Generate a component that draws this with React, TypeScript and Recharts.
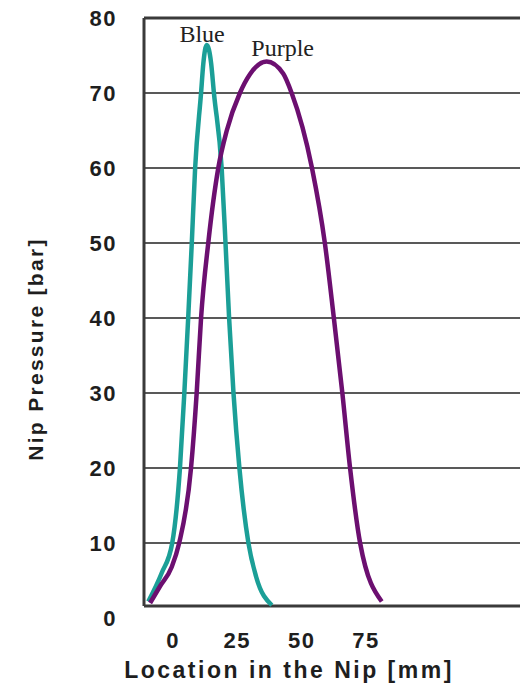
import { Label, Line, LineChart, ReferenceDot, ReferenceLine, XAxis, YAxis } from 'recharts';

// location in the nip [mm] and pressure [bar]
const blueX = [-9.6, -4.4, -0.3, 2.7, 4.4, 5.9, 7.3, 8.6, 10.9, 11.8, 13.1, 14.8, 15.9, 18.9, 20.4, 21.8, 23.5, 25.8, 29.3, 32.3, 38.4];
const blueY = [2.2, 6.0, 10, 20, 30, 40, 50, 60, 70, 74, 76.4, 74, 70, 60, 50, 40, 30, 20, 10, 5.5, 1.7];

const purpleX = [-8.9, -5.1, -0.5, 2.4, 7.0, 9.2, 10.9, 13.7, 17.6, 20.9, 26.0, 29.9, 36.4, 42.8, 46.1, 54.0, 59.0, 62.5, 65.8, 68.8, 72.7, 81.1];
const purpleY = [2.0, 4.2, 6.8, 10, 20, 30, 40, 50, 60, 65, 70, 72.5, 74.2, 72.6, 70, 60, 50, 40, 30, 20, 10, 2.2];

const xTicks = [0, 25, 50, 75];
const yTicks = [0, 10, 20, 30, 40, 50, 60, 70, 80];
const gridValues = [10, 20, 30, 40, 50, 60, 70];

const curveNames = ['Blue', 'Purple'];
const curveLabelX = [11.3, 42.6];
const curveLabelY = [78, 76.1];

const X_MIN = -11.27;
const X_MAX = 142.6;
const BOX_BOTTOM = 1.6;

const blueData = blueX.map((x, i) => ({ x, y: blueY[i] }));
const purpleData = purpleX.map((x, i) => ({ x, y: purpleY[i] }));

const sans = '"Liberation Sans", Arial, sans-serif';
const tickStyle = { fill: '#1e1e1e', fontSize: 22, fontWeight: 'bold', fontFamily: sans, letterSpacing: 1.5 };

export default function App() {
  return (
    <div style={{ position: 'absolute', left: 0, top: 0, width: 520, height: 685, overflow: 'hidden', background: '#fff' }}>
      <LineChart width={540} height={685} margin={{ top: 18, right: 0, left: 0, bottom: 0 }}>
        <XAxis
          type="number"
          dataKey="x"
          domain={[X_MIN, X_MAX]}
          ticks={xTicks}
          interval={0}
          axisLine={false}
          tickLine={false}
          tickSize={0}
          tickMargin={14}
          height={67}
          tick={tickStyle}
        >
          <Label
            content={({ viewBox }: any) => (
              <text
                x={viewBox.x + 145}
                y={viewBox.y + 60}
                textAnchor="middle"
                fill="#1e1e1e"
                fontSize={23}
                fontWeight="bold"
                fontFamily={sans}
                letterSpacing={2.5}
              >
                Location in the Nip [mm]
              </text>
            )}
          />
        </XAxis>
        <YAxis
          type="number"
          domain={[0, 80]}
          ticks={yTicks}
          interval={0}
          axisLine={false}
          tickLine={false}
          tickSize={0}
          tickMargin={27}
          width={144}
          tick={tickStyle}
        >
          <Label
            content={({ viewBox }: any) => {
              const cx = 35;
              const cy = viewBox.y + 331;
              return (
                <text
                  x={cx}
                  y={cy}
                  transform={`rotate(-90, ${cx}, ${cy})`}
                  textAnchor="middle"
                  dominantBaseline="central"
                  fill="#1e1e1e"
                  fontSize={21}
                  fontWeight="bold"
                  fontFamily={sans}
                  letterSpacing={2.3}
                >
                  Nip Pressure [bar]
                </text>
              );
            }}
          />
        </YAxis>

        {gridValues.map((v) => (
          <ReferenceLine key={v} y={v} stroke="#222" strokeWidth={1.6} />
        ))}
        <ReferenceLine y={80} stroke="#3a3a3a" strokeWidth={3} />
        <ReferenceLine y={BOX_BOTTOM} stroke="#3a3a3a" strokeWidth={3} />
        <ReferenceLine
          segment={[
            { x: X_MIN, y: BOX_BOTTOM },
            { x: X_MIN, y: 80 },
          ]}
          stroke="#3a3a3a"
          strokeWidth={3}
        />

        <Line data={blueData} dataKey="y" type="monotone" stroke="#1b9f97" strokeWidth={4.5} dot={false} isAnimationActive={false} />
        <Line data={purpleData} dataKey="y" type="monotone" stroke="#6c0f70" strokeWidth={4.5} dot={false} isAnimationActive={false} />

        {curveNames.map((name, i) => (
          <ReferenceDot
            key={name}
            x={curveLabelX[i]}
            y={curveLabelY[i]}
            r={0}
            fill="none"
            stroke="none"
            label={{ value: name, position: 'center', fill: '#222', fontSize: 24, fontFamily: '"Liberation Serif", "Times New Roman", serif' }}
          />
        ))}
      </LineChart>
    </div>
  );
}
